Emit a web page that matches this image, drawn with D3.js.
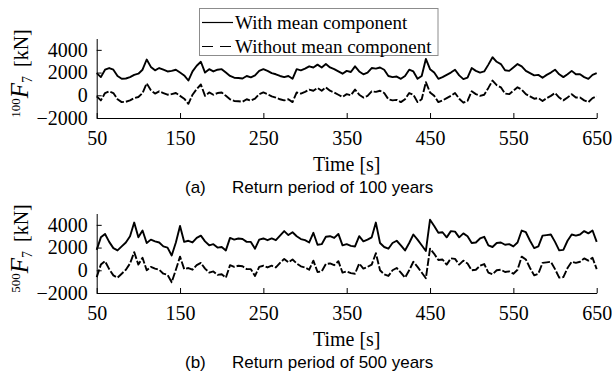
<!DOCTYPE html>
<html>
<head>
<meta charset="utf-8">
<script src="https://cdn.jsdelivr.net/npm/d3@7"></script>
<style>
    body { margin: 0; background: #fff; }
    text { fill: #000; }
    .serif, .serif text { font-family: "Liberation Serif", "Times New Roman", serif; }
    .sans { font-family: "Liberation Sans", Arial, sans-serif; }
</style>
</head>
<body>
<div id="graph-container"></div>
<script>
const WIDTH = 612,
    HEIGHT = 380;

// time samples, every 5 s
const times = d3.range(50, 651, 5);

const xTicks = [50, 150, 250, 350, 450, 550, 650];
const yTicks = [-2000, 0, 2000, 4000];

// return period 100 years [kN]
const with100 = [
    1950, 1600, 2250, 2400, 2250, 1700, 1450, 1480, 1600, 1800,
    1900, 2250, 3150, 2500, 2200, 2400, 2250, 2100, 2150, 2250,
    2000, 1750, 1300, 2100, 2600, 2950, 2000, 2300, 2100, 2250,
    2300, 2000, 1700, 1550, 1520, 1480, 1700, 1580, 1750, 2150,
    2300, 2150, 1950, 1850, 1700, 1600, 1700, 1450, 2300, 2200,
    2350, 2550, 2450, 2700, 2450, 2750, 2450, 2300, 2100, 1900,
    2150, 2050, 2550, 2100, 1850, 2000, 2400, 2350, 2450, 2250,
    1700, 1600, 1650, 1450, 1700, 2250, 2100, 1450, 1700, 3200,
    2300, 2000, 1450, 1600, 1800, 2000, 2250, 1750, 1420, 1550,
    2400, 2150, 2000, 2100, 2700, 3350, 2950, 2750, 2200, 2150,
    2450, 2750, 2550, 2150, 1950, 1750, 1800, 1550, 1800, 2000,
    2250, 1850, 1600, 1850, 2150, 1850, 1850, 1600, 1450, 1800,
    1950
];
const without100 = [
    -100, -450, 200, 350, 200, -350, -600, -570, -450, -250,
    -150, 200, 1050, 450, 150, 350, 200, 50, 100, 200,
    -50, -300, -750, 50, 550, 950, -50, 250, 50, 200,
    250, -50, -350, -500, -530, -570, -350, -470, -300, 100,
    250, 100, -100, -200, -350, -450, -350, -600, 250, 150,
    300, 500, 400, 650, 400, 700, 400, 250, 50, -150,
    100, 0, 500, 50, -200, -50, 350, 300, 400, 200,
    -350, -450, -400, -600, -350, 200, 50, -600, -350, 1150,
    250, -50, -600, -450, -250, -50, 200, -300, -650, -500,
    350, 100, -50, 50, 650, 1300, 900, 700, 150, 100,
    400, 700, 500, 100, -100, -300, -250, -500, -250, -50,
    200, -200, -450, -200, 100, -200, -200, -450, -600, -250,
    -100
];

// return period 500 years [kN]
const with500 = [
    1800, 2900, 3200, 2500, 1950, 1750, 2100, 2450, 3000, 4200,
    2900, 3500, 2400, 2700, 2550, 2450, 2100, 2000, 1300, 2450,
    3900, 2500, 2600, 2450, 2850, 3050, 2550, 2200, 2300, 2000,
    2050, 1750, 2850, 2700, 2800, 2750, 2500, 2500, 1900, 2700,
    2800, 2650, 2800, 2650, 3050, 3450, 3100, 3350, 3000, 2750,
    2650, 2450, 3300, 2250, 2300, 2950, 3000, 2850, 3200, 2200,
    2300, 2150, 2100, 3000, 2550, 2700, 2900, 4200, 2400, 2050,
    1900, 2400, 2600, 2200, 1750, 2400, 3150, 2700, 2200, 1700,
    4450, 3900, 3300, 3350, 2900, 3450, 3400, 2900, 3250, 3000,
    2400, 2450, 2800, 2950, 2200, 2050, 2400, 2450, 2250, 2300,
    2100, 2450, 3500, 3350, 2600, 1950, 2100, 3050, 3100, 3150,
    2500, 1750, 1800, 2600, 3150, 3050, 3150, 3450, 3250, 3500,
    2500
];
const without500 = [
    -600, 500, 800, 100, -450, -650, -300, 50, 600, 1600,
    500, 1100, 0, 300, 150, 50, -300, -400, -1050, 50,
    1200, 100, 200, 50, 450, 650, 150, -200, -100, -400,
    -350, -650, 450, 300, 400, 350, 100, 100, -500, 300,
    400, 250, 400, 250, 650, 1000, 700, 950, 600, 350,
    250, 50, 850, -150, -100, 550, 600, 450, 800, -200,
    -100, -250, -300, 600, 150, 300, 500, 1500, 0, -350,
    -500, 0, 200, -200, -650, 0, 750, 300, -200, -700,
    1900, 1450, 900, 950, 500, 1050, 1000, 500, 850, 600,
    0, 50, 400, 550, -200, -350, 0, 50, -150, -100,
    -300, 50, 1200, 950, 200, -450, -300, 650, 700, 750,
    100, -650, -600, 200, 750, 650, 750, 1050, 850, 1100,
    100
];

const legendLabels = ["With mean component", "Without mean component"];

const serifFont = '"Liberation Serif", "Times New Roman", serif';

const svg = d3.select("#graph-container")
    .append("svg")
    .attr("width", WIDTH)
    .attr("height", HEIGHT);

const plotLeft = 96.7,
    plotRight = 596.7,
    plotHeight = 79.5;

const escalaX = d3.scaleLinear()
    .domain([50, 650])
    .range([plotLeft, plotRight]);

const dibujarPanel = (top, withMean, withoutMean, superIdx, caption) => {

    const escalaY = d3.scaleLinear()
        .domain([-2000, 5000])
        .range([top + plotHeight, top]);

    const line = d3.line()
        .x((d, i) => escalaX(times[i]))
        .y((d) => escalaY(d));

    svg.append("path")
        .datum(withoutMean)
        .attr("fill", "none")
        .attr("stroke", "#000")
        .attr("stroke-width", 1.9)
        .attr("stroke-linejoin", "round")
        .attr("stroke-dasharray", "8,2")
        .attr("d", line);

    svg.append("path")
        .datum(withMean)
        .attr("fill", "none")
        .attr("stroke", "#000")
        .attr("stroke-width", 1.9)
        .attr("stroke-linejoin", "round")
        .attr("d", line);

    const yAxis = svg.append("g")
        .attr("transform", `translate(${plotLeft}, 0)`)
        .call(d3.axisLeft(escalaY)
            .tickValues(yTicks)
            .tickSizeInner(-5)
            .tickSizeOuter(0)
            .tickPadding(9)
            .tickFormat(d3.format("d")));

    const xAxis = svg.append("g")
        .attr("transform", `translate(0, ${top + plotHeight})`)
        .call(d3.axisBottom(escalaX)
            .tickValues(xTicks)
            .tickSizeInner(-5)
            .tickSizeOuter(0)
            .tickPadding(13));

    [xAxis, yAxis].forEach((ax) => {
        ax.attr("font-family", null).attr("font-size", null);
        ax.selectAll("text")
            .style("font-family", serifFont)
            .style("font-size", "20px");
        ax.selectAll("line, path").attr("stroke", "#000");
    });

    // y label: superscript index, F_7 [kN]
    const ylab = svg.append("text")
        .style("font-family", serifFont)
        .attr("text-anchor", "middle")
        .attr("transform", `translate(28, ${top + 35}) rotate(-90)`);
    ylab.append("tspan").attr("font-size", 13).attr("dy", -8).text(superIdx);
    ylab.append("tspan").attr("font-size", 25).attr("font-style", "italic").attr("dy", 8).text("F");
    ylab.append("tspan").attr("font-size", 14).attr("dy", 4).text("7");
    ylab.append("tspan").attr("font-size", 20).attr("dy", -4).attr("dx", 9).text("[kN]");

    svg.append("text")
        .style("font-family", serifFont)
        .attr("x", (plotLeft + plotRight) / 2)
        .attr("y", top + plotHeight + 53)
        .attr("text-anchor", "middle")
        .attr("font-size", 20)
        .text("Time [s]");

    const cap = svg.append("text")
        .attr("class", "sans")
        .attr("y", top + plotHeight + 75)
        .attr("font-size", 17);
    cap.append("tspan").attr("x", 185).text(caption[0]);
    cap.append("tspan").attr("x", 232).text(caption[1]);
};

dibujarPanel(38.5, with100, without100, "100", ["(a)", "Return period of 100 years"]);
dibujarPanel(213.5, with500, without500, "500", ["(b)", "Return period of 500 years"]);

// legend
const legend = svg.append("g");

legend.append("rect")
    .attr("x", 199.5)
    .attr("y", 8.5)
    .attr("width", 238.5)
    .attr("height", 47)
    .attr("fill", "#fff")
    .attr("stroke", "#8c8c8c")
    .attr("stroke-width", 1);

legendLabels.forEach((label, i) => {
    const ly = 22.5 + i * 24;
    legend.append("line")
        .attr("x1", 202)
        .attr("x2", 233)
        .attr("y1", ly)
        .attr("y2", ly)
        .attr("stroke", "#000")
        .attr("stroke-width", 1.2)
        .attr("stroke-dasharray", i === 1 ? "11,7" : null);
    legend.append("text")
        .style("font-family", serifFont)
        .attr("x", 235)
        .attr("y", ly + 6.5)
        .attr("font-size", 19)
        .text(label);
});
</script>
</body>
</html>
